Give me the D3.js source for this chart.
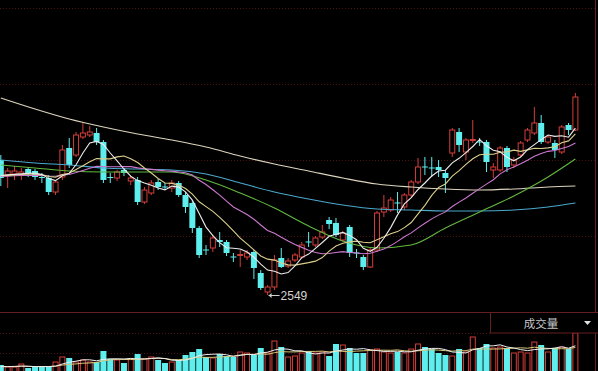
<!DOCTYPE html>
<html><head><meta charset="utf-8">
<script src="https://cdn.jsdelivr.net/npm/d3@7"></script>
<style>html,body{margin:0;padding:0;background:#000;overflow:hidden}</style>
</head><body>
<svg id="chart" width="598" height="371"></svg>
<script>
// Daily index candles (open / high / low / close)
const opens  = [2886.5,2849,2851.5,2849,2864,2859,2844,2841.5,2806.5,2844,2916.5,2899,2944,2949,2954,2931.5,2844,2841.5,2861.5,2834,
  2836.5,2781.5,2804,2831.5,2820.25,2816.5,2829,2799,2779,2716.5,2662.75,2666.5,2686.5,2681.5,2645.25,2647.75,2644,2656.5,2604,2556.5,
  2569,2641.5,2621.5,2636.5,2644,2682.75,2674,2694,2736.5,2729,2686.5,2719,2655.25,2644,2619,2661.5,2756.5,2761.5,2780.25,2769,
  2799,2831.5,2870.25,2867.75,2869,2854,2904,2956.5,2906.5,2935.25,2932.75,2931.5,2861.5,2861.5,2916.5,2874,2899,2936.5,2954,2979,
  2931.5,2929,2906.5,2974,2961.5];
const closes = [2841.5,2859,2859,2856.5,2851.5,2844,2841.5,2806.5,2831.5,2911.5,2874,2949,2954,2956.5,2931.5,2836.5,2841.5,2856.5,2854,2841.5,
  2781.5,2811.5,2829,2819,2817.75,2829,2799,2769,2716.5,2649,2660.25,2691.5,2681.5,2654,2642.75,2650.25,2654,2616.5,2566.5,2569,
  2636.5,2619,2634,2649,2674,2680.25,2691.5,2706.5,2726.5,2699,2704,2654,2652.75,2619,2661.5,2754,2766.5,2786.5,2777.75,2799,
  2831.5,2869,2867.75,2865.25,2861.5,2841.5,2961.5,2924,2936.5,2937.75,2930.25,2881.5,2869,2916.5,2869,2886.5,2929,2961.5,2979,2931.5,
  2944,2911.5,2969,2961.5,3044];
const highs  = [2899,2866.5,2871.5,2866.5,2869,2864,2854,2849,2836.5,2924,2941.5,2956.5,2981.5,2971.5,2966.5,2936.5,2854,2861.5,2866.5,2846.5,
  2844,2819,2836.5,2839,2829,2836.5,2834,2806.5,2786.5,2721.5,2674,2699,2706.5,2686.5,2654,2661.5,2661.5,2661.5,2611.5,2574,
  2649,2666.5,2641.5,2654,2681.5,2706.5,2696.5,2724,2744,2741.5,2709,2724,2664,2649,2666.5,2759,2799,2794,2806.5,2804,
  2836.5,2891.5,2894,2894,2886.5,2861.5,2966.5,2966.5,2941.5,2986.5,2941.5,2936.5,2879,2921.5,2921.5,2894,2934,2966.5,3019,2999,
  2949,2936.5,2974,2979,3054];
const lows   = [2821.5,2816.5,2836.5,2836.5,2844,2836.5,2829,2799,2799,2836.5,2866.5,2894,2939,2944,2924,2829,2829,2834,2846.5,2824,
  2774,2776.5,2799,2811.5,2811.5,2806.5,2794,2754,2704,2641.5,2649,2656.5,2669,2646.5,2631.5,2619,2636.5,2589,2561.5,2549,
  2561.5,2616.5,2616.5,2631.5,2639,2669,2669,2689,2714,2694,2681.5,2644,2641.5,2611.5,2616.5,2656.5,2744,2756.5,2754,2761.5,
  2794,2826.5,2849,2844,2844,2804,2894,2906.5,2886.5,2929,2921.5,2856.5,2841.5,2856.5,2856.5,2866.5,2894,2931.5,2949,2926.5,
  2926.5,2891.5,2901.5,2949,2959];
// Closes of the sessions just before the window, used for the short averages
const priorCloses = [2836,2841,2846,2849,2844,2839,2836,2841,2846,2851,2854,2849,2844,2841,2846,2851,2854,2849,2844];

// Trading volume (亿股)
const volumes = [110,90,90,120,80,90,90,90,140,190,180,140,160,140,140,250,170,160,130,170,
  220,170,190,160,130,140,160,210,240,270,190,180,220,200,190,240,230,210,280,230,
  350,290,190,200,230,250,230,240,200,320,310,280,230,230,260,270,240,230,240,230,
  270,320,290,270,230,210,200,270,240,390,280,320,280,290,280,230,240,230,340,310,
  240,280,290,270,430];
const priorVolumes = [90,100,80,90,110,90,80,100,90];

// Longer moving averages, sampled every fifth session
const longIdx = [0,5,10,15,20,25,30,35,40,45,50,55,60,65,70,75,80,84];
const ma30 = [2874,2866.5,2859,2856.5,2856.5,2856.5,2836.5,2804,2766.5,2721.5,2684,2666.5,2674,2716.5,2756.5,2796.5,2844,2889];
const ma60 = [2886.5,2879,2874,2866.5,2864,2861.5,2851.5,2829,2806.5,2789,2774,2764,2761.5,2759,2759,2761.5,2769,2779];
const ma120 = [3041.5,3014,2989,2969,2951.5,2936.5,2919,2896.5,2876.5,2859,2841.5,2826.5,2819,2814,2811.5,2814,2819,2821.5];

const volumeLabel = "成交量";

const W = 598, H = 371;
const RED = "#d43e3a", CYAN = "#5eeeee", GRID = "#4a1414";
const svg = d3.select("#chart");
svg.append("rect").attr("width", W).attr("height", H).attr("fill", "#000");

const idx = d3.range(opens.length);
const x = d3.scaleBand().domain(idx).range([-2.6, 578.8]);
const cx = i => x(i) + x.bandwidth() / 2;
const bodyW = 5;
const y = d3.scaleLinear().domain([2506.5, 3286.5]).range([312, 0]);
const yv = d3.scaleLinear().domain([0, 500]).range([376, 326]);

// grid
const g = svg.append("g");
[8, 84, 160, 236].forEach(v => g.append("line").attr("x1", 0).attr("x2", 596).attr("y1", v + 0.5).attr("y2", v + 0.5)
  .attr("stroke", GRID).attr("stroke-dasharray", "1,2"));
[333, 353].forEach(v => g.append("line").attr("x1", 0).attr("x2", 490).attr("y1", v + 0.5).attr("y2", v + 0.5)
  .attr("stroke", GRID).attr("stroke-dasharray", "1,2"));
g.append("line").attr("x1", 0).attr("x2", W).attr("y1", 312.5).attr("y2", 312.5).attr("stroke", "#642020");
g.append("line").attr("x1", 595.5).attr("x2", 595.5).attr("y1", 0).attr("y2", H).attr("stroke", "#642020");

// candles
const up = i => closes[i] >= opens[i];
const cg = svg.append("g");
idx.forEach(i => {
  const col = up(i) ? RED : CYAN;
  cg.append("line").attr("x1", cx(i)).attr("x2", cx(i)).attr("y1", y(highs[i])).attr("y2", y(lows[i]))
    .attr("stroke", col).attr("stroke-width", 1);
  const top = y(Math.max(opens[i], closes[i])), bot = y(Math.min(opens[i], closes[i]));
  const h = Math.max(1, bot - top);
  if (up(i)) {
    cg.append("rect").attr("x", cx(i) - bodyW / 2).attr("y", top).attr("width", bodyW).attr("height", h)
      .attr("fill", "#000").attr("stroke", col).attr("stroke-width", 1);
  } else {
    cg.append("rect").attr("x", cx(i) - bodyW / 2 - 0.5).attr("y", top).attr("width", bodyW + 1).attr("height", h)
      .attr("fill", col);
  }
});

// moving averages
function movingAvg(prior, vals, n) {
  const all = prior.concat(vals), p = prior.length;
  return vals.map((v, i) => d3.mean(all.slice(i + p - n + 1, i + p + 1)));
}
const lineGen = d3.line().x(d => cx(d[0])).y(d => y(d[1])).curve(d3.curveMonotoneX);
function drawLine(pts, color, gen = lineGen) {
  svg.append("path").datum(pts).attr("d", gen).attr("fill", "none").attr("stroke", color).attr("stroke-width", 1.1);
}
drawLine(longIdx.map((k, j) => [k, ma120[j]]), "#dcd4bc");
drawLine(longIdx.map((k, j) => [k, ma60[j]]), "#4aa8cc");
drawLine(longIdx.map((k, j) => [k, ma30[j]]), "#62b840");
const lin = d3.line().x(d => cx(d[0])).y(d => y(d[1]));
drawLine(movingAvg(priorCloses, closes, 20).map((v, i) => [i, v]), "#cc78d0", lin);
drawLine(movingAvg(priorCloses, closes, 10).map((v, i) => [i, v]), "#dccf8c", lin);
drawLine(movingAvg(priorCloses, closes, 5).map((v, i) => [i, v]), "#ececec", lin);

// lowest low marker
const lowI = d3.minIndex(lows);
const ly = y(lows[lowI]) + 0.5;
const lx = cx(lowI) + 1;
svg.append("line").attr("x1", lx).attr("x2", lx + 11).attr("y1", ly).attr("y2", ly).attr("stroke", "#d0d0d0");
svg.append("path").attr("d", `M${lx},${ly} l3,-2.5 v5 z`).attr("fill", "#d0d0d0");
svg.append("text").attr("x", lx + 12).attr("y", ly + 4.5).attr("fill", "#d4d4d4")
  .attr("font-family", "Liberation Sans, Arial, sans-serif").attr("font-size", 12).text(d3.format(".0f")(lows[lowI]));

// volume bars
const vg = svg.append("g");
idx.forEach(i => {
  const t = yv(volumes[i]);
  if (up(i)) {
    vg.append("rect").attr("x", cx(i) - bodyW / 2).attr("y", t).attr("width", bodyW).attr("height", H + 5 - t)
      .attr("fill", "#000").attr("stroke", RED);
  } else {
    vg.append("rect").attr("x", cx(i) - bodyW / 2 - 0.5).attr("y", t).attr("width", bodyW + 1).attr("height", H + 5 - t)
      .attr("fill", CYAN);
  }
});
const vline = d3.line().x(d => cx(d[0])).y(d => yv(d[1]));
svg.append("path").datum(movingAvg(priorVolumes, volumes, 10).map((v, i) => [i, v])).attr("d", vline)
  .attr("fill", "none").attr("stroke", "#d8c878").attr("stroke-width", 1);
svg.append("path").datum(movingAvg(priorVolumes, volumes, 5).map((v, i) => [i, v])).attr("d", vline)
  .attr("fill", "none").attr("stroke", "#eeeeee").attr("stroke-width", 1);

// volume panel title box
svg.append("rect").attr("x", 490.5).attr("y", 312.5).attr("width", 110).attr("height", 20.5)
  .attr("fill", "#000").attr("stroke", "#642020");
svg.append("text").attr("x", 541).attr("y", 327.5).attr("text-anchor", "middle").attr("fill", "#c8c8c8")
  .attr("font-family", "Noto Sans CJK SC, sans-serif").attr("font-size", 11.5).text(volumeLabel);
svg.append("path").attr("d", "M584,321 h7 l-3.5,4 z").attr("fill", "#e0e0e0");
</script>
</body></html>
